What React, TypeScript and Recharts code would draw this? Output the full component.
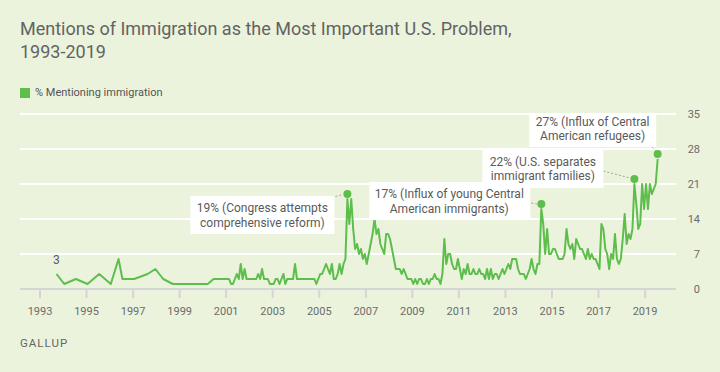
import { LineChart, Line, XAxis, YAxis, CartesianGrid, ReferenceDot } from 'recharts';

// Gallup "most important problem" – share naming immigration
const earlyDates = [
  '1993-09', '1994-01', '1994-07', '1995-01', '1995-07', '1996-01', '1996-05', '1996-07',
  '1997-01', '1997-08', '1997-12', '1998-04', '1998-09', '2000-03', '2000-06', '2000-12',
];
const earlyValues = [3, 1, 2, 1, 3, 1, 6, 2, 2, 3, 4, 2, 1, 1, 2, 2];

// monthly readings from Jan 2001 onward
const monthlyStartYear = 2001;
const monthlyValues = [
  2, 2, 1, 1, 2, 3, 2, 5, 2, 4, 2, 2, // 2001
  2, 2, 2, 2, 3, 2, 4, 2, 2, 2, 1, 1, // 2002
  1, 2, 2, 1, 2, 3, 1, 2, 2, 2, 2, 5, // 2003
  2, 2, 2, 2, 2, 2, 2, 2, 2, 2, 1, 2, // 2004
  3, 3, 4, 5, 4, 3, 5, 2, 2, 3, 5, 3, // 2005
  5, 6, 18, 13, 18, 12, 8, 9, 7, 8, 6, 7, // 2006
  5, 7, 9, 11, 14, 11, 12, 9, 8, 7, 11, 11, // 2007
  10, 8, 6, 4, 4, 4, 3, 4, 3, 2, 2, 2, // 2008
  1, 2, 1, 2, 2, 1, 1, 2, 1, 2, 2, 3, // 2009
  2, 2, 1, 3, 10, 5, 7, 7, 5, 4, 4, 6, // 2010
  4, 2, 4, 3, 5, 3, 3, 4, 3, 3, 4, 3, // 2011
  3, 2, 4, 2, 4, 2, 3, 3, 2, 3, 4, 3, // 2012
  4, 5, 4, 6, 6, 6, 4, 3, 3, 3, 2, 3, // 2013
  4, 6, 4, 3, 5, 5, 16, 13, 7, 12, 7, 7, // 2014
  8, 8, 7, 6, 6, 6, 7, 12, 9, 8, 9, 6, // 2015
  10, 9, 8, 8, 7, 6, 8, 6, 7, 6, 6, 5, // 2016
  4, 13, 12, 8, 7, 4, 7, 6, 11, 6, 5, 6, // 2017
  10, 15, 9, 11, 10, 12, 21, 17, 12, 13, 21, 16, // 2018
  21, 16, 21, 19, 20, 21, 26, // 2019
];

const yearTicks = [1993, 1995, 1997, 1999, 2001, 2003, 2005, 2007, 2009, 2011, 2013, 2015, 2017, 2019];
const valueTicks = [0, 7, 14, 21, 28, 35];

const calloutDates = ['2006-03', '2014-07', '2018-07', '2019-07'];
const calloutValues = [19, 17, 22, 27];
const calloutText = [
  ['19% (Congress attempts', 'comprehensive reform)'],
  ['17% (Influx of young Central', 'American immigrants)'],
  ['22% (U.S. separates', 'immigrant families)'],
  ['27% (Influx of Central', 'American refugees)'],
];

// box / text / leader offsets relative to each marker
const calloutLayout = [
  { box: [-157, 2, 144, 38], text: [-85, 14, 28.5], lead: [-12, 2.5, -4.5, 0.5] },
  { box: [-172, -22, 161, 38], text: [-92, -10, 4.5], lead: [-10, -1, -4.5, 0] },
  { box: [-152, -29, 121, 38], text: [-91.5, -17, -3], lead: [-31, -8, -4.5, -1] },
  { box: [-128.5, -40, 127, 33], text: [-65, -32, -18.5], lead: [-5.5, -7, -2, -3.5] },
];

const BG = '#EBF3DD';
const GREEN = '#5DBE4C';
const FONT = 'Roboto, "Noto Sans", sans-serif';
const PLOT_RIGHT = 676;

const toYear = (d: string) => {
  const [y, m] = d.split('-').map(Number);
  return y + (m - 0.5) / 12;
};

const data = [
  ...earlyDates.map((d, i) => ({ t: toYear(d), v: earlyValues[i] })),
  ...monthlyValues.map((v, i) => ({ t: monthlyStartYear + (i + 0.5) / 12, v })),
];

function RightTick(props: any) {
  const { y, payload } = props;
  return (
    <text x={PLOT_RIGHT + 24} y={y} dy={4} textAnchor="end" fontSize={11} fill="#6b6b6b" fontFamily={FONT}>
      {payload.value}
    </text>
  );
}

function Callout(props: any) {
  const { cx, cy, i } = props;
  if (cx == null || cy == null) return null;
  const { box, text, lead } = calloutLayout[i];
  return (
    <g>
      <line
        x1={cx + lead[0]} y1={cy + lead[1]} x2={cx + lead[2]} y2={cy + lead[3]}
        stroke="#a0a0a0" strokeWidth={1} strokeDasharray="2 2"
      />
      <rect x={cx + box[0]} y={cy + box[1]} width={box[2]} height={box[3]} fill="#fff" />
      {calloutText[i].map((line, k) => (
        <text
          key={k}
          x={cx + text[0]}
          y={cy + text[1 + k]}
          textAnchor="middle"
          dominantBaseline="central"
          fontSize={12}
          fill="#5a5a5a"
          fontFamily={FONT}
        >
          {line}
        </text>
      ))}
      <circle cx={cx} cy={cy} r={4} fill={GREEN} />
    </g>
  );
}

export default function App() {
  return (
    <div style={{ position: 'absolute', left: 0, top: 0, width: 720, height: 372, background: BG, fontFamily: FONT }}>
      <div style={{ position: 'absolute', left: 0, top: 0 }}>
        <LineChart width={720} height={372} data={data} margin={{ top: 114, right: 20, bottom: 53, left: 20 }}>
          <CartesianGrid vertical={false} stroke="#ffffff" strokeWidth={2} />
          <XAxis
            dataKey="t"
            type="number"
            domain={[1992.14, 2020.33]}
            ticks={yearTicks}
            height={30}
            tickSize={9}
            tickMargin={9}
            axisLine={{ stroke: '#d5d5d5', strokeWidth: 2 }}
            tickLine={{ stroke: '#d5d5d5', strokeWidth: 2 }}
            tick={{ fill: '#6b6b6b', fontSize: 11, fontFamily: FONT }}
            allowDataOverflow
          />
          <YAxis
            orientation="right"
            domain={[0, 35]}
            ticks={valueTicks}
            width={24}
            axisLine={false}
            tickLine={false}
            tick={<RightTick />}
          />
          <Line
            dataKey="v"
            type="linear"
            stroke={GREEN}
            strokeWidth={2}
            strokeLinejoin="round"
            dot={false}
            activeDot={false}
            isAnimationActive={false}
          />
          <ReferenceDot
            x={toYear(earlyDates[0])}
            y={earlyValues[0]}
            r={0}
            shape={(p: any) => (
              <text x={p.cx} y={p.cy - 10} textAnchor="middle" fontSize={12} fill="#5a5a5a" fontFamily={FONT}>
                {earlyValues[0]}
              </text>
            )}
          />
          {calloutDates.map((d, i) => (
            <ReferenceDot
              key={d}
              x={toYear(d)}
              y={calloutValues[i]}
              r={4}
              shape={(p: any) => <Callout {...p} i={i} />}
            />
          ))}
        </LineChart>
      </div>
      <div style={{ position: 'absolute', left: 20, top: 17, fontSize: 18, lineHeight: '23px', color: '#636363' }}>
        Mentions of Immigration as the Most Important U.S. Problem,
        <br />
        1993-2019
      </div>
      <div style={{ position: 'absolute', left: 20, top: 86, display: 'flex', alignItems: 'center', fontSize: 11, color: '#555' }}>
        <span style={{ display: 'inline-block', width: 10, height: 10, background: GREEN, marginRight: 5 }} />
        <span>% Mentioning immigration</span>
      </div>
      <div style={{ position: 'absolute', left: 20, top: 336, fontSize: 11.5, letterSpacing: 1, color: '#666' }}>
        GALLUP
      </div>
    </div>
  );
}
